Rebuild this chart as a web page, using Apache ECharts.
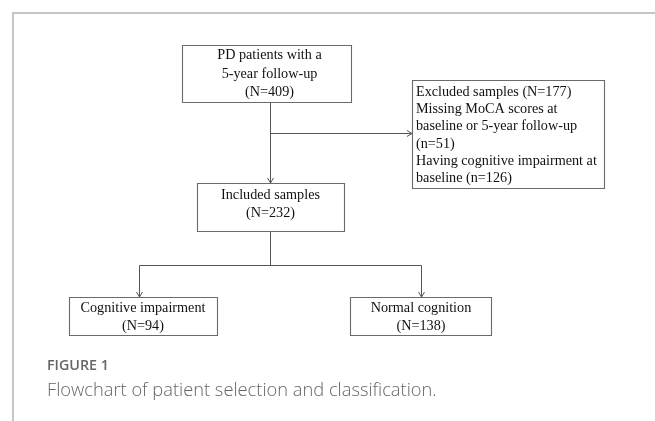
<!DOCTYPE html>
<html>
<head>
<meta charset="utf-8">
<script src="https://cdn.jsdelivr.net/npm/echarts@6/dist/echarts.min.js"></script>
<style>
html,body{margin:0;padding:0;background:#fff;}
#c{width:655px;height:421px;}
</style>
</head>
<body>
<div id="c"></div>
<script>
// ---- data ----
const stageCounts = [409, 232, 94, 138];          // screened, included, impaired, normal
const excludedTotal = 177;
const exclusionCounts = [51, 126];
const screenedLines = ['PD patients with a', '5-year follow-up', '(N=' + stageCounts[0] + ')'];
const includedLines = ['Included samples', '(N=' + stageCounts[1] + ')'];
const impairedLines = ['Cognitive impairment', '(N=' + stageCounts[2] + ')'];
const normalLines = ['Normal cognition', '(N=' + stageCounts[3] + ')'];
const excludedLines = [
  'Excluded samples (N=' + excludedTotal + ')',
  'Missing MoCA scores at',
  'baseline or 5-year follow-up',
  '(n=' + exclusionCounts[0] + ')',
  'Having cognitive impairment at',
  'baseline (n=' + exclusionCounts[1] + ')'
];
const figureLabel = 'FIGURE 1';
const captionText = 'Flowchart of patient selection and classification.';

// ---- layout ----
const BOX_FONT = '14.2px "Liberation Serif", "Times New Roman", serif';
const LINE_COLOR = '#555';
const BOX_STROKE = '#6a6a6a';
const g = [];

function box(x1, y1, x2, y2) {
  g.push({ type: 'rect', shape: { x: x1 + 0.5, y: y1 + 0.5, width: x2 - x1, height: y2 - y1 },
    style: { fill: '#fff', stroke: BOX_STROKE, lineWidth: 1.1 }, z: 2 });
}
function lines(arr, x, y0, step, align) {
  arr.forEach(function (t, i) {
    g.push({ type: 'text', x: x, y: y0 + i * step, z: 3,
      style: { text: t, font: BOX_FONT, fill: '#111', textAlign: align, textVerticalAlign: 'middle',
               align: align, verticalAlign: 'middle' } });
  });
}
function seg(x1, y1, x2, y2) {
  g.push({ type: 'line', shape: { x1: x1, y1: y1, x2: x2, y2: y2 },
    style: { stroke: LINE_COLOR, lineWidth: 1 }, z: 1 });
}
function arrowDown(x, y) {
  g.push({ type: 'polyline', shape: { points: [[x - 3, y - 5], [x, y], [x + 3, y - 5]] },
    style: { stroke: LINE_COLOR, lineWidth: 1, fill: null }, z: 4 });
}
function arrowRight(x, y) {
  g.push({ type: 'polyline', shape: { points: [[x - 5, y - 3], [x, y], [x - 5, y + 3]] },
    style: { stroke: LINE_COLOR, lineWidth: 1, fill: null }, z: 4 });
}

// frame
g.push({ type: 'polyline', shape: { points: [[13, 421], [13, 13], [655, 13]] },
  style: { stroke: '#b4b4b4', lineWidth: 1.5, fill: null } });

// connectors
seg(270.5, 102, 270.5, 183); arrowDown(270.5, 183);
seg(270.5, 133.5, 412, 133.5); arrowRight(412, 133.5);
seg(270.5, 231, 270.5, 265.5);
seg(139.5, 265.5, 421.5, 265.5);
seg(139.5, 265.5, 139.5, 297); arrowDown(139.5, 297);
seg(421.5, 265.5, 421.5, 297); arrowDown(421.5, 297);

// boxes
box(182, 45, 351, 102);  lines(screenedLines, 269.5, 55.5, 18.3, 'center');
box(412, 80, 604, 188);  lines(excludedLines, 416, 92.5, 17.1, 'left');
box(197, 183, 344, 231); lines(includedLines, 270.5, 195.5, 18, 'center');
box(69, 297, 217, 335);  lines(impairedLines, 143, 308, 18, 'center');
box(350, 297, 491, 335); lines(normalLines, 421, 308, 18, 'center');

// caption
g.push({ type: 'text', x: 47, y: 366, style: { text: figureLabel,
  font: '600 14.3px "Open Sans", sans-serif', fill: '#666', textVerticalAlign: 'middle', verticalAlign: 'middle' } });
g.push({ type: 'text', x: 47, y: 391, style: { text: captionText,
  font: '300 18.3px "Open Sans", sans-serif', fill: '#666', textVerticalAlign: 'middle', verticalAlign: 'middle' } });

const chart = echarts.init(document.getElementById('c'), null, { renderer: 'canvas' });
chart.setOption({ backgroundColor: '#fff', animation: false, graphic: g });
</script>
</body>
</html>
